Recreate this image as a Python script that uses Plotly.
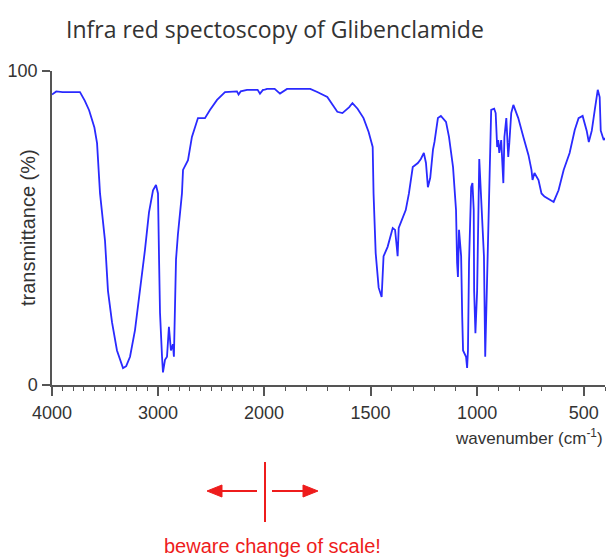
import numpy as np
import plotly.graph_objects as go

title_text = "Infra red spectoscopy of Glibenclamide"
y_title = "transmittance (%)"
x_title = "wavenumber (cm<sup>-1</sup>)"
note_text = "beware change of scale!"

left_ticks = [4000, 3000]
right_ticks = [2000, 1500, 1000, 500]
y_ticks = [0, 100]

wavenumber = [
    4000, 3960, 3900, 3736, 3690, 3650, 3600, 3575, 3547, 3520, 3500, 3472, 3434, 3387, 3350,
    3330, 3300, 3264, 3217, 3170, 3123, 3085, 3047, 3019, 3000, 2990, 2981, 2962, 2953, 2934,
    2915, 2897, 2878, 2859, 2850, 2830, 2812, 2774, 2764, 2717, 2698, 2680, 2623, 2557, 2510,
    2443, 2368, 2280, 2255, 2240, 2220, 2160, 2104, 2060, 2038, 2010, 2000,
    1986, 1950, 1925, 1892, 1783, 1750, 1703, 1656, 1632, 1600, 1585, 1561, 1533, 1509, 1490,
    1486, 1480, 1476, 1462, 1450, 1448, 1439, 1420, 1396, 1385, 1377, 1373, 1368, 1349, 1335,
    1320, 1302, 1278, 1264, 1250, 1240, 1231, 1220, 1207, 1200, 1184, 1170, 1146, 1132, 1113,
    1099, 1094, 1090, 1085, 1075, 1070, 1066, 1052, 1047, 1043, 1038, 1028, 1022, 1016, 1014,
    1008, 1000, 990, 982, 968, 962, 957, 948, 943, 934, 920, 913, 906, 901, 896, 887, 877, 872,
    863, 858, 854, 849, 840, 830, 807, 783, 759, 745, 740, 731, 712, 698, 684, 641, 618, 594,
    566, 542, 524, 505, 486, 476, 462, 448, 434, 425, 420, 406, 400,
]
transmittance = [
    92.5, 93.5, 93.3, 93.3, 90.5, 87.5, 82, 77, 61, 53, 46, 30, 20, 11, 7,
    5.4, 6, 9, 17.5, 30, 43, 55, 62, 63.7, 61, 40, 23, 9, 4, 8,
    9, 18.5, 11, 13, 9, 40, 48, 61, 68.5, 71.6, 75, 79, 85, 85, 87.6,
    90.8, 93.3, 93.3, 93.5, 92.5, 93.5, 94, 94, 94, 92.8, 94, 94,
    94.3, 94.3, 92.8, 94.3, 94.3, 93.3, 91.7, 87, 86.6, 88.5, 89.8, 88, 85, 80.6, 75.8,
    61, 50, 42, 31, 28, 28, 41, 44, 50, 49.4, 44, 41, 50, 53, 55.7,
    61, 69.4, 70.7, 72, 73.9, 70.7, 63, 66, 75, 77.4, 85, 85.7, 83.8, 79, 69.4,
    55.7, 39, 34.4, 49.4, 41, 21.7, 11, 9, 5.4, 11, 39, 63, 64.3, 55.7, 30,
    16.5, 30, 72, 61, 41, 9, 21.7, 46, 64, 87.6, 88, 86.6, 75.8, 78, 73.9, 78, 64.3, 79,
    85, 73.9, 72.6, 77, 86.6, 89.2, 85, 79, 73.2, 68.5, 65.3, 67.5, 65.3, 61, 60, 58.3, 62, 68.5,
    73.9, 81.2, 85, 85.7, 81, 77.4, 81, 87.6, 94, 91.7, 81, 78, 78.7,
]

w = np.array(wavenumber, dtype=float)
t = np.array(transmittance, dtype=float)
left = w >= 2000
right = w <= 2000

line_style = dict(color="#2a2aff", width=1.8)
fig = go.Figure()
fig.add_trace(go.Scatter(x=w[left], y=t[left], mode="lines", line=line_style,
                         xaxis="x", yaxis="y", showlegend=False, cliponaxis=False))
fig.add_trace(go.Scatter(x=w[right], y=t[right], mode="lines", line=line_style,
                         xaxis="x2", yaxis="y", showlegend=False, cliponaxis=False))

W, H = 607, 558
ml, mr, mt, mb = 52, 2, 71, 173
pw = W - ml - mr
split = 212 / pw

FONT = "Liberation Sans, Arial, sans-serif"
tick_font = dict(family=FONT, size=18, color="#333")
axis_common = dict(
    showline=True, linecolor="#555", linewidth=1.5, ticks="outside", ticklen=9,
    tickwidth=1.5, tickcolor="#555", showgrid=False, zeroline=False,
    tickfont=tick_font, ticklabelstandoff=2, automargin=False,
    minor=dict(dtick=100, ticks="outside", ticklen=4, tickwidth=1.2, tickcolor="#555"),
)

fig.update_layout(
    width=W, height=H, paper_bgcolor="white", plot_bgcolor="white",
    margin=dict(l=ml, r=mr, t=mt, b=mb, autoexpand=False),
    xaxis=dict(domain=[0, split], range=[4000, 2000], tickvals=left_ticks,
               anchor="y", **axis_common),
    xaxis2=dict(domain=[split, 1], range=[2000, 400], tickvals=right_ticks,
                anchor="y", **axis_common),
    yaxis=dict(range=[0, 100], tickvals=y_ticks, showline=True, linecolor="#555",
               linewidth=1.5, ticks="outside", ticklen=8, tickwidth=1.5, tickcolor="#555",
               showgrid=False, zeroline=False, tickfont=tick_font, automargin=False,
               ticklabelstandoff=1),
    font=dict(family=FONT),
)

def px_x(px):
    return (px - ml) / pw

def px_y(py):
    return (H - mb - py) / (H - mt - mb)

red = "#ee1c1c"
annotations = [
    dict(text=title_text, xref="paper", yref="paper", x=px_x(275), y=px_y(29),
         showarrow=False, xanchor="center", yanchor="middle",
         font=dict(family="Open Sans, Noto Sans, sans-serif", size=23, color="#333")),
    dict(text=y_title, xref="paper", yref="paper", x=px_x(28), y=px_y(228),
         showarrow=False, xanchor="center", yanchor="middle", textangle=-90,
         font=dict(family=FONT, size=20, color="#333")),
    dict(text=x_title, xref="paper", yref="paper", x=px_x(605), y=px_y(437),
         showarrow=False, xanchor="right", yanchor="middle",
         font=dict(family=FONT, size=17, color="#333")),
    dict(text=note_text, xref="paper", yref="paper", x=px_x(272), y=px_y(546),
         showarrow=False, xanchor="center", yanchor="middle",
         font=dict(family=FONT, size=20, color=red)),
]
fig.update_layout(annotations=annotations)

def seg(x0, y0, x1, y1):
    fig.add_shape(type="line", xref="paper", yref="paper",
                  x0=px_x(x0), x1=px_x(x1), y0=px_y(y0), y1=px_y(y1),
                  line=dict(color=red, width=2))

def tri(pts):
    path = "M " + " L ".join(f"{px_x(a):.5f},{px_y(b):.5f}" for a, b in pts) + " Z"
    fig.add_shape(type="path", xref="paper", yref="paper", path=path,
                  fillcolor=red, line=dict(color=red, width=1))

seg(265, 462, 265, 522)          # scale-change marker
seg(257, 491, 220, 491)          # left arrow shaft
tri([(207, 491), (222, 485), (222, 497)])
seg(272, 491, 305, 491)          # right arrow shaft
tri([(318, 491), (303, 485), (303, 497)])

fig.write_html("out.html", config={"displayModeBar": False},
               post_script="document.body.style.margin='0px';document.body.style.overflow='hidden';")
